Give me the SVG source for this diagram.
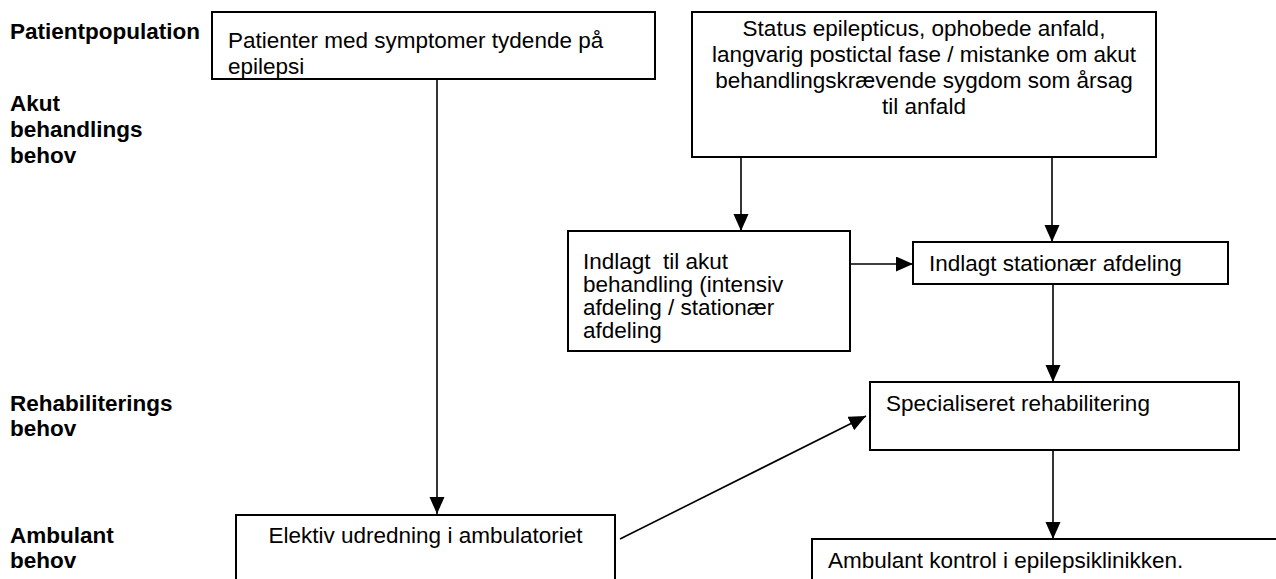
<svg xmlns="http://www.w3.org/2000/svg" width="1276" height="579" viewBox="0 0 1276 579">
<style>
  .box { fill: #fff; stroke: #000; stroke-width: 2; }
  .t { font-family: "Liberation Sans", Arial, sans-serif; font-size: 22.5px; fill: #000; white-space: pre; }
  .lbl { font-family: "Liberation Sans", Arial, sans-serif; font-size: 22.5px; font-weight: bold; fill: #000; }
  .c { text-anchor: middle; }
  .conn line { stroke: #000; stroke-width: 1.6; fill: none; marker-end: url(#arr); }
</style>
<defs>
  <marker id="arr" markerUnits="userSpaceOnUse" markerWidth="18" markerHeight="16" refX="17" refY="7.5" orient="auto">
    <path d="M0,0 L17,7.5 L0,15 Z" fill="#000"/>
  </marker>
</defs>
<rect width="1276" height="579" fill="#fff"/>

<g id="labels">
  <text class="lbl" x="10" y="39">Patientpopulation</text>
  <text class="lbl" x="10" y="111">Akut</text>
  <text class="lbl" x="10" y="137">behandlings</text>
  <text class="lbl" x="10" y="163">behov</text>
  <text class="lbl" x="10" y="411">Rehabiliterings</text>
  <text class="lbl" x="10" y="436">behov</text>
  <text class="lbl" x="10" y="543">Ambulant</text>
  <text class="lbl" x="10" y="568">behov</text>
</g>

<g id="connectors" class="conn">
  <line x1="437" y1="79" x2="437" y2="514"/>
  <line x1="741" y1="157" x2="741" y2="231"/>
  <line x1="1052" y1="157" x2="1052" y2="242"/>
  <line x1="850" y1="264" x2="913" y2="264"/>
  <line x1="1053" y1="284" x2="1053" y2="382"/>
  <line x1="620" y1="539" x2="866" y2="416"/>
  <line x1="1053" y1="450" x2="1053" y2="539"/>
</g>

<g id="n-patienter">
  <rect class="box" x="212" y="12" width="443" height="67"/>
  <text class="t" x="228" y="48">Patienter med symptomer tydende på</text>
  <text class="t" x="228" y="74">epilepsi</text>
</g>

<g id="n-status">
  <rect class="box" x="692" y="12" width="464" height="145"/>
  <text class="t c" x="924" y="36">Status epilepticus, ophobede anfald,</text>
  <text class="t c" x="924" y="62">langvarig postictal fase / mistanke om akut</text>
  <text class="t c" x="924" y="88">behandlingskrævende sygdom som årsag</text>
  <text class="t c" x="924" y="114">til anfald</text>
</g>

<g id="n-akut">
  <rect class="box" x="568" y="231" width="282" height="120"/>
  <text class="t" x="583" y="269" xml:space="preserve">Indlagt  til akut</text>
  <text class="t" x="583" y="292">behandling (intensiv</text>
  <text class="t" x="583" y="315">afdeling / stationær</text>
  <text class="t" x="583" y="338">afdeling</text>
</g>

<g id="n-stationaer">
  <rect class="box" x="913" y="242" width="315" height="42"/>
  <text class="t" x="929" y="271">Indlagt stationær afdeling</text>
</g>

<g id="n-rehab">
  <rect class="box" x="870" y="382" width="369" height="68"/>
  <text class="t" x="886" y="411">Specialiseret rehabilitering</text>
</g>

<g id="n-elektiv">
  <rect class="box" x="236" y="515" width="379" height="80"/>
  <text class="t c" x="425.5" y="543">Elektiv udredning i ambulatoriet</text>
</g>

<g id="n-ambulant">
  <rect class="box" x="812" y="539" width="480" height="60"/>
  <text class="t" x="828" y="568">Ambulant kontrol i epilepsiklinikken.</text>
</g>
</svg>
